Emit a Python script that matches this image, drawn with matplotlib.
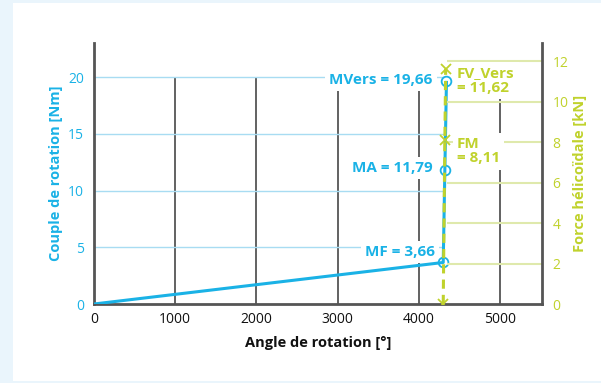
import matplotlib
matplotlib.use("Agg")
import matplotlib.pyplot as plt
from matplotlib.patches import Rectangle

# ---- data ----
torque_angle = [0, 4300, 4320, 4340]
torque_values = [0.0, 3.66, 11.79, 19.66]
marker_angle = [4300, 4320, 4340]
marker_torque = [3.66, 11.79, 19.66]
force_angle = [4300, 4320, 4330]
force_values = [0.0, 8.11, 11.62]
x_ticks = [0, 1000, 2000, 3000, 4000, 5000]
left_ticks = [0, 5, 10, 15, 20]
right_ticks = [0, 2, 4, 6, 8, 10, 12]
torque_labels = ["MF = 3,66", "MA = 11,79", "MVers = 19,66"]
force_labels = ["FM\n= 8,11", "FV_Vers\n= 11,62"]

BLUE = "#1ab2e6"
GREEN = "#c0d22c"
LBLUE = "#a8dcf2"
LGREEN = "#dfe9ac"
GRAY = "#555555"
BG = "#eaf5fc"

plt.rcParams['font.family'] = ['Open Sans', 'DejaVu Sans']

fig = plt.figure(figsize=(6.01, 3.83), dpi=100, facecolor=BG)
fig.patches.append(Rectangle((13/601, 2/383), 1 - 13/601, 1 - 5/383,
                             transform=fig.transFigure, facecolor="white",
                             edgecolor="none", zorder=-10))

ax = fig.add_axes([94/601, 1 - 304/383, 447.5/601, 261/383])
ax.set_facecolor("none")
ax.set_xlim(0, 5510)
ax.set_ylim(0, 23)

# vertical grid lines
ax.vlines(x_ticks[1:], 0, 20, color=GRAY, lw=1.3, zorder=1)
# horizontal blue grid lines
ax.hlines(left_ticks[1:], 0, 4310, color=LBLUE, lw=1.0, zorder=1)

ax.plot(torque_angle, torque_values, color=BLUE, lw=2.2, zorder=4,
        solid_capstyle="butt")
ax.plot(marker_angle, marker_torque, ls="none", marker="o", ms=7,
        mfc="none", mec=BLUE, mew=1.3, zorder=5)

label_y = [4.6, 12.0, 19.75]
label_x = [4200, 4170, 4170]
for txt, yy, xx in zip(torque_labels, label_y, label_x):
    ax.text(xx, yy, txt, color=BLUE, fontsize=11, fontweight="bold",
            ha="right", va="center", zorder=3,
            bbox=dict(facecolor="white", edgecolor="none", pad=3))

for s in ["top", "right"]:
    ax.spines[s].set_visible(False)
for s in ["left", "bottom"]:
    ax.spines[s].set_color(GRAY)
    ax.spines[s].set_linewidth(2)
ax.set_xticks(x_ticks)
ax.set_yticks(left_ticks)
ax.tick_params(axis="x", length=0, pad=6, labelsize=10, labelcolor="#111111")
ax.tick_params(axis="y", length=0, pad=7, labelsize=10, labelcolor=BLUE)
ax.set_xlabel("Angle de rotation [°]", fontsize=10.5, fontweight="bold",
              color="#111111", labelpad=6)
ax.set_ylabel("Couple de rotation [Nm]", fontsize=10.5, fontweight="bold",
              color=BLUE, labelpad=4)

ax2 = ax.twinx()
ax2.set_ylim(0, 12.89)
ax2.set_xlim(0, 5510)
ax2.hlines(right_ticks[1:], 4345, 5510, color=LGREEN, lw=1.5, zorder=1)
ax2.plot(force_angle, force_values, color=GREEN, lw=2.2, ls=(0, (3, 2)),
         marker="x", ms=7, mew=1.3, zorder=5)
force_label_y = [7.55, 11.05]
for txt, yy in zip(force_labels, force_label_y):
    ax2.text(4470, yy, txt, color=GREEN, fontsize=11, fontweight="bold",
             ha="left", va="center", linespacing=1.05, zorder=3,
             bbox=dict(facecolor="white", edgecolor="none", pad=3))
for s in ["top", "left", "bottom"]:
    ax2.spines[s].set_visible(False)
ax2.spines["right"].set_color(GRAY)
ax2.spines["right"].set_linewidth(2)
ax2.set_yticks(right_ticks)
ax2.tick_params(axis="y", length=0, pad=8, labelsize=10, labelcolor=GREEN)
ax2.set_ylabel("Force hélicoïdale [kN]", fontsize=10.5, fontweight="bold",
               color=GREEN, labelpad=3)

fig.savefig("out.png", dpi=100, facecolor=BG)
